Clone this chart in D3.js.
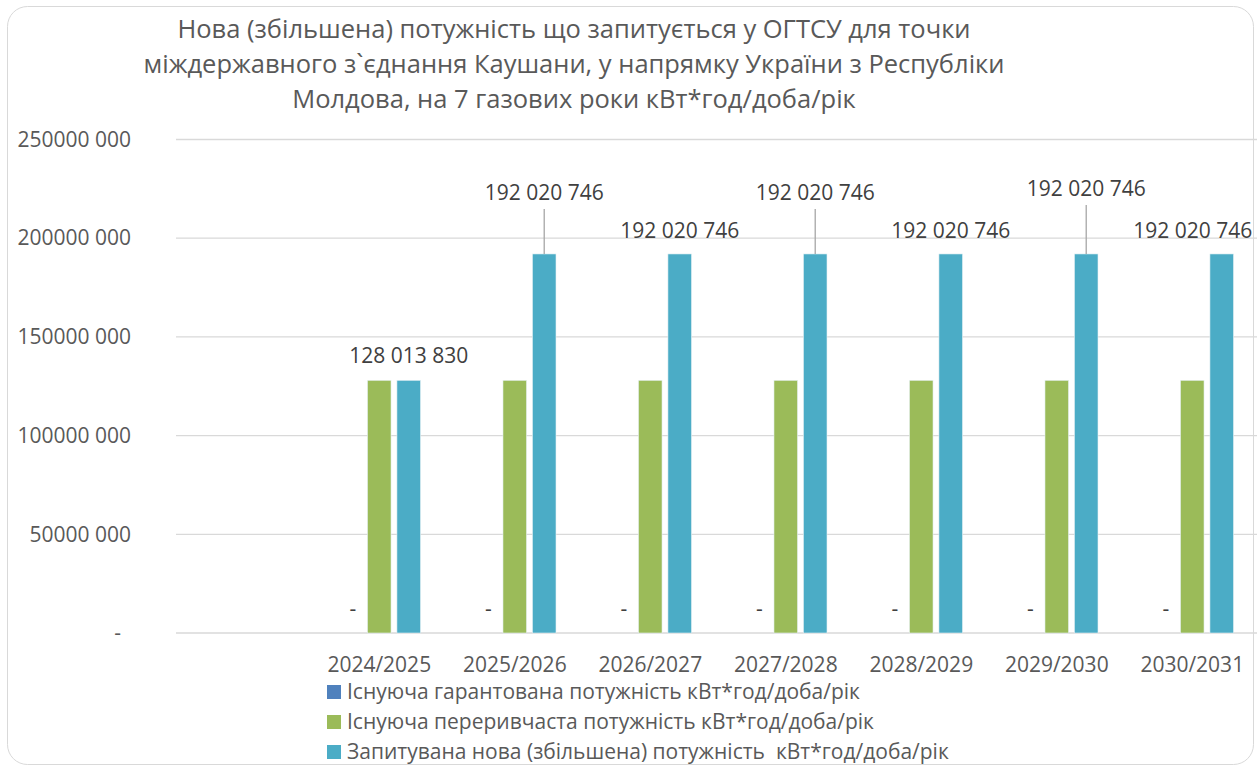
<!DOCTYPE html>
<html>
<head>
<meta charset="utf-8">
<script src="https://cdn.jsdelivr.net/npm/d3@7"></script>
<style>
  body { margin: 0; background: #fff; }
  svg { font-family: "Open Sans", sans-serif; }
</style>
</head>
<body>
<div class="canvas"></div>
<script>
// data
const categories = ['2024/2025','2025/2026','2026/2027','2027/2028','2028/2029','2029/2030','2030/2031'];
const seriesNames = [
  'Існуюча гарантована потужність кВт*год/доба/рік',
  'Існуюча переривчаста потужність кВт*год/доба/рік',
  'Запитувана нова (збільшена) потужність  кВт*год/доба/рік'
];
const guaranteed = [0, 0, 0, 0, 0, 0, 0];
const interruptible = [128013830, 128013830, 128013830, 128013830, 128013830, 128013830, 128013830];
const requested = [128013830, 192020746, 192020746, 192020746, 192020746, 192020746, 192020746];
const yTicks = [0, 50000000, 100000000, 150000000, 200000000, 250000000];
const titleLines = [
  'Нова (збільшена) потужність що запитується у ОГТСУ для точки',
  'міждержавного з`єднання Каушани, у напрямку України з Республіки',
  'Молдова, на 7 газових роки кВт*год/доба/рік'
];

// label placement for the requested series (pixels above bar top, leader line or not)
const labelLift = [15, 52, 14, 52, 14, 56, 14];
const labelShift = [0, 0, 0, 0, 0, 0, -29];

const colors = ['#4f81bd', '#9bbb59', '#4bacc6'];
const dims = {width: 1257, height: 766};

const svg = d3.select('.canvas').append('svg')
  .attr('width', dims.width)
  .attr('height', dims.height);

// chart border
svg.append('rect')
  .attr('x', 7.5).attr('y', 6.5)
  .attr('width', 1246).attr('height', 758)
  .attr('rx', 20).attr('ry', 20)
  .attr('fill', '#fff')
  .attr('stroke', '#d9d9d9');

// title
svg.append('text')
  .attr('text-anchor', 'middle')
  .attr('fill', '#595959')
  .attr('font-size', 25.5)
  .selectAll('tspan')
  .data(titleLines)
  .join('tspan')
    .attr('x', 574)
    .attr('y', (d, i) => 38 + i * 35)
    .text(d => d);

// scales
const x = d3.scaleBand()
  .domain([''].concat(categories))
  .range([176, 176 + 135.5 * 8]);

const inner = d3.scaleBand()
  .domain(d3.range(3))
  .range([-41.25, 41.25])
  .paddingInner(0.2);

const y = d3.scaleLinear()
  .domain([0, 250000000])
  .range([633, 139.5]);

// gridlines
svg.append('g')
  .selectAll('line')
  .data(yTicks)
  .join('line')
    .attr('x1', 176).attr('x2', dims.width)
    .attr('y1', d => y(d)).attr('y2', d => y(d))
    .attr('stroke', '#d9d9d9')
    .attr('stroke-width', 1.3);

// y axis
const yAxis = d3.axisLeft(y)
  .tickValues(yTicks)
  .tickSize(0)
  .tickPadding(0)
  .tickFormat(d => d === 0 ? '-' : String(d).replace(/(\d{3})$/, ' $1'));

const yG = svg.append('g')
  .attr('transform', 'translate(131,0)')
  .call(yAxis);
yG.select('.domain').remove();
yG.selectAll('text')
  .attr('font-family', '"Open Sans", sans-serif')
  .attr('font-size', 21)
  .attr('fill', '#595959')
  .attr('dx', d => d === 0 ? -10 : 0);

// x axis
const xAxis = d3.axisBottom(x).tickSize(0).tickPadding(0);
const xG = svg.append('g')
  .attr('transform', 'translate(0,657)')
  .call(xAxis);
xG.select('.domain').remove();
xG.selectAll('text')
  .attr('font-family', '"Open Sans", sans-serif')
  .attr('font-size', 21)
  .attr('fill', '#595959');

// bars
const table = categories.map((c, i) => ({cat: c, vals: [guaranteed[i], interruptible[i], requested[i]], i}));

const groups = svg.append('g')
  .selectAll('g')
  .data(table)
  .join('g')
    .attr('transform', d => `translate(${x(d.cat) + x.bandwidth() / 2},0)`);

groups.selectAll('rect')
  .data(d => d.vals.map((v, s) => ({v, s})))
  .join('rect')
    .attr('x', d => inner(d.s))
    .attr('width', inner.bandwidth())
    .attr('y', d => y(d.v))
    .attr('height', d => y(0) - y(d.v))
    .attr('fill', d => colors[d.s])
    .attr('stroke', '#e8f2f5')
    .attr('stroke-width', 0.6);

const fmt = v => d3.format(',')(v).replace(/,/g, ' ');

// zero labels for the guaranteed series
groups.append('text')
  .attr('x', inner(0) + inner.bandwidth() / 2 + 3)
  .attr('y', d => y(d.vals[0]) - 17)
  .attr('text-anchor', 'middle')
  .attr('font-size', 21)
  .attr('fill', '#404040')
  .text(d => d.vals[0] === 0 ? '-' : fmt(d.vals[0]));

// leader lines
groups.filter(d => labelLift[d.i] > 40)
  .append('line')
    .attr('x1', inner(2) + inner.bandwidth() / 2)
    .attr('x2', inner(2) + inner.bandwidth() / 2)
    .attr('y1', d => y(d.vals[2]) - labelLift[d.i] + 7)
    .attr('y2', d => y(d.vals[2]))
    .attr('stroke', '#a6a6a6')
    .attr('stroke-width', 1.3);

// value labels for the requested series
groups.append('text')
  .attr('x', d => inner(2) + inner.bandwidth() / 2 + labelShift[d.i])
  .attr('y', d => y(d.vals[2]) - labelLift[d.i] - 2)
  .attr('text-anchor', 'middle')
  .attr('font-size', 21)
  .attr('fill', '#404040')
  .text(d => fmt(d.vals[2]));

// legend
const legend = svg.append('g')
  .attr('transform', 'translate(327,692)');

const items = legend.selectAll('g')
  .data(seriesNames)
  .join('g')
    .attr('transform', (d, i) => `translate(0,${i * 30})`);

items.append('rect')
  .attr('y', -7).attr('width', 14).attr('height', 14)
  .attr('fill', (d, i) => colors[i]);

items.append('text')
  .attr('x', 20)
  .attr('dy', '0.35em')
  .attr('font-size', 21)
  .attr('fill', '#595959')
  .style('white-space', 'pre')
  .text(d => d);
</script>
</body>
</html>
